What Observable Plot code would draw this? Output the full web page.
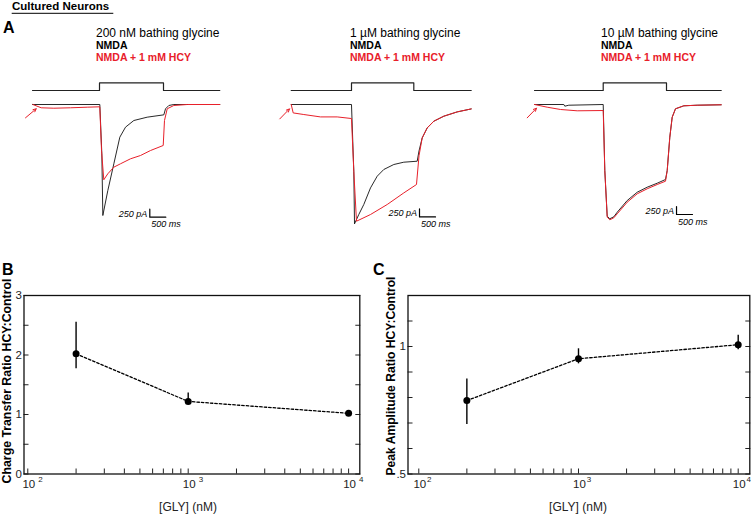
<!DOCTYPE html>
<html><head><meta charset="utf-8">
<script src="https://cdn.jsdelivr.net/npm/d3@7"></script>
<script src="https://cdn.jsdelivr.net/npm/@observablehq/plot@0.6"></script>
<style>
body{margin:0;background:#fff;}
#fig{position:relative;width:751px;height:514px;overflow:hidden;background:#fff;font-family:"Liberation Sans",Arial,Helvetica,sans-serif;}
</style></head><body><div id="fig"></div>
<script>
// ---------- Panel A data: whole-cell currents (time in ms from NMDA onset, current in pA) ----------
const trace1Black = [[-2094,0],[10,0],[73,-1542],[104,-3469],[260,-2688],[448,-1854],[635,-1021],[813,-708],[1073,-500],[1490,-396],[2010,-323],[2063,-135],[2167,-31],[2323,0],[3760,0]];
const trace1Red = [[-2084,0],[-1822,-103],[-1428,-116],[-906,-103],[-384,-84],[9,-72],[63,-1438],[134,-2353],[259,-2166],[447,-1959],[656,-1853],[969,-1697],[1281,-1594],[1594,-1438],[1991,-1281],[2031,-500],[2116,-134],[2322,-31],[2741,0],[3759,0]];
const trace2Black = [[-1884,0],[0,0],[72,-2084],[94,-3731],[228,-3438],[384,-3125],[594,-2606],[803,-2241],[1009,-2031],[1322,-1875],[1634,-1803],[2053,-1772],[2110,-1450],[2209,-1044],[2366,-731],[2572,-522],[2884,-366],[3303,-231],[3741,-138]];
const trace2Red = [[-1884,0],[-1822,-263],[-1491,-313],[-969,-388],[-447,-388],[0,-438],[72,-2084],[156,-3647],[594,-3438],[1116,-3125],[1634,-2763],[2031,-2500],[2110,-1600],[2209,-1044],[2366,-731],[2572,-522],[2884,-366],[3303,-231],[3741,-138]];
const trace3Black = [[-2147,0],[-1231,0],[-1200,-53],[-1075,-22],[0,0],[50,-2063],[125,-3490],[206,-3570],[331,-3510],[438,-3366],[750,-3000],[1063,-2741],[1375,-2584],[1688,-2459],[1947,-2344],[2000,-2063],[2081,-1022],[2156,-397],[2259,-134],[2519,-41],[2938,-22],[3688,-9]];
const trace3Red = [[-2147,0],[-1750,-84],[-1334,-156],[-813,-197],[0,-188],[50,-2063],[125,-3521],[206,-3603],[331,-3541],[438,-3416],[750,-3053],[1063,-2791],[1375,-2634],[1688,-2500],[1947,-2397],[2000,-2063],[2081,-1022],[2156,-397],[2259,-134],[2519,-41],[2938,-22],[3688,-9]];
const traceTitles = ["200 nM bathing glycine", "1 \u00b5M bathing glycine", "10 \u00b5M bathing glycine"];
const legendLabels = ["NMDA", "NMDA + 1 mM HCY"];
// NMDA application protocol (ms)
const stepStart = [-2094, -1884, -2147];
const stepOn = [0, 0, 0];
const stepOff = [2000, 1947, 1978];
const stepEnd = [3759, 3741, 3688];
const stepLevels = [438, 678]; // schematic indicator levels
// scale bars: 250 pA, 500 ms, corner (ms, pA)
const barCurrent = 250, barTime = 500;
const barCornerT = [1572, 2125, 2291];
const barCornerI = [-3522, -3513, -3438];
// red arrows (ms, pA)
const arrowFromT = [-2313, -2241, -2375], arrowFromI = [-416, -450, -416];
const arrowToT = [-1978, -1938, -2084], arrowToI = [-134, -138, -116];

// ---------- Panels B, C data ----------
const glyConc = [200, 1000, 10000];
const chargeRatio = [2.02, 1.22, 1.02];
const chargeLow = [1.77, 1.18, 0.99];
const chargeHigh = [2.55, 1.36, 1.05];
const peakRatio = [0.788, 0.952, 1.007];
const peakLow = [0.694, 0.932, 0.987];
const peakHigh = [0.873, 0.991, 1.044];
const xTicks = [100,200,300,400,500,600,700,800,900,1000,2000,3000,4000,5000,6000,7000,8000,9000,10000];
const xDecades = [100, 1000, 10000];
const chargeTicks = [0,0.5,1,1.5,2,2.5,3];
const chargeTickLabels = [0,1,2,3];
const peakTicks = [0.5,0.6,0.7,0.8,0.9,1.0,1.1];
const peakTickLabels = [0.5, 1];

const RED = "#e8202a";
const FONT = '"Liberation Sans", Arial, Helvetica, sans-serif';
const fig = document.getElementById("fig");
function place(svg, left, top) {
  svg.style.position = "absolute";
  svg.style.left = left + "px";
  svg.style.top = top + "px";
  svg.style.maxWidth = "none";
  fig.appendChild(svg);
}
const toRows = a => a.map(([t, I]) => ({t, I}));

// ---------- Panel A traces ----------
const traces = [
  {black: trace1Black, red: trace1Red, left: 20, width: 230, x: [-2469, 4719]},
  {black: trace2Black, red: trace2Red, left: 270, width: 230, x: [-2531, 4656]},
  {black: trace3Black, red: trace3Red, left: 510, width: 241, x: [-2897, 4634]}
];
traces.forEach((tr, i) => {
  const step = [
    {t: stepStart[i], I: stepLevels[0]}, {t: stepOn[i], I: stepLevels[0]},
    {t: stepOn[i], I: stepLevels[1]}, {t: stepOff[i], I: stepLevels[1]},
    {t: stepOff[i], I: stepLevels[0]}, {t: stepEnd[i], I: stepLevels[0]}
  ];
  const c = {t: barCornerT[i], I: barCornerI[i]};
  const bar = [{t: c.t, I: c.I + barCurrent}, {t: c.t, I: c.I}, {t: c.t + barTime, I: c.I}];
  const arrow = [{t1: arrowFromT[i], I1: arrowFromI[i], t2: arrowToT[i], I2: arrowToI[i]}];
  const svg = Plot.plot({
    width: tr.width, height: 170, margin: 0,
    x: {domain: tr.x, axis: null},
    y: {domain: [-4250, 1062.5], axis: null},
    style: {background: "transparent", fontFamily: FONT, overflow: "visible"},
    marks: [
      Plot.line(step, {x: "t", y: "I", stroke: "#222", strokeWidth: 1.2}),
      Plot.line(toRows(tr.black), {x: "t", y: "I", stroke: "#111", strokeWidth: 0.9}),
      Plot.line(toRows(tr.red), {x: "t", y: "I", stroke: RED, strokeWidth: 1}),
      Plot.line(bar, {x: "t", y: "I", stroke: "#000", strokeWidth: 1.2}),
      Plot.text([c], {x: "t", y: "I", text: () => barCurrent + " pA", textAnchor: "end", lineAnchor: "bottom", dx: -2.5, dy: -0.5, fontStyle: "italic", fontSize: 9, fill: "#000"}),
      Plot.text([c], {x: "t", y: "I", text: () => barTime + " ms", textAnchor: "start", lineAnchor: "bottom", dx: 1.5, dy: 10, fontStyle: "italic", fontSize: 9, fill: "#000"}),
      Plot.arrow(arrow, {x1: "t1", y1: "I1", x2: "t2", y2: "I2", stroke: RED, strokeWidth: 1, headLength: 5, headAngle: 50})
    ]
  });
  place(svg, tr.left, 70);
});

// ---------- Panels B and C ----------
function summaryPlot({vals, lo, hi, yDomain, yTicks, yLabels, yFmt, xDomain, width, marginLeft, marginRight, supDx}) {
  const rows = glyConc.map((g, i) => ({g, v: vals[i], lo: lo[i], hi: hi[i]}));
  return Plot.plot({
    width, height: 264, marginLeft, marginRight, marginTop: 45, marginBottom: 40.5,
    x: {type: "log", domain: xDomain, label: null},
    y: {domain: yDomain, label: null},
    style: {background: "transparent", fontFamily: FONT, fontSize: "11px", color: "#222", overflow: "visible"},
    marks: [
      Plot.axisX(xTicks, {tickSize: -5, fill: "none", label: null, strokeWidth: 1}),
      Plot.axisY(yTicks, {anchor: "left", tickSize: -5, fill: "none", label: null}),
      Plot.axisY(yTicks, {anchor: "right", tickSize: -5, fill: "none", label: null}),
      Plot.axisY(yLabels, {anchor: "left", tickSize: 0, tickPadding: 2, tickFormat: yFmt, label: null, fontSize: 11.5}),
      Plot.text(xDecades, {x: d => d, frameAnchor: "bottom", text: () => "10", lineAnchor: "bottom", dx: 1, dy: 13.5, fontSize: 11.5, fill: "#222"}),
      Plot.text(xDecades, {x: d => d, frameAnchor: "bottom", text: d => String(Math.round(Math.log10(d))), lineAnchor: "bottom", textAnchor: "start", dx: supDx, dy: 8.2, fontSize: 8, fill: "#222"}),
      Plot.frame({stroke: "#111", strokeWidth: 1.3}),
      Plot.ruleX(rows, {x: "g", y1: "lo", y2: "hi", stroke: "#000", strokeWidth: 1.4}),
      Plot.line(rows, {x: "g", y: "v", stroke: "#000", strokeWidth: 1.3, strokeDasharray: "2.5,2"}),
      Plot.dot(rows, {x: "g", y: "v", r: 3.5, fill: "#000", stroke: "none"})
    ]
  });
}
place(summaryPlot({
  vals: chargeRatio, lo: chargeLow, hi: chargeHigh,
  yDomain: [0, 3], yTicks: chargeTicks, yLabels: chargeTickLabels, yFmt: d => String(d),
  xDomain: [94.7, 11744], width: 370, marginLeft: 23.5, marginRight: 10.7, supDx: 10.5
}), 0, 250);
place(summaryPlot({
  vals: peakRatio, lo: peakLow, hi: peakHigh,
  yDomain: [0.5, 1.2], yTicks: peakTicks, yLabels: peakTickLabels, yFmt: d => String(d).replace(/^0/, ""),
  xDomain: [85.6, 11820], width: 381, marginLeft: 37.5, marginRight: 1.7, supDx: 8.3
}), 370, 250);

// ---------- Text overlay ----------
const ov = d3.select(fig).append("svg")
  .attr("width", 751).attr("height", 514)
  .style("position", "absolute").style("left", "0px").style("top", "0px")
  .style("font-family", FONT).style("pointer-events", "none");
function txt(x, y, s, opts = {}) {
  const t = ov.append("text").attr("x", x).attr("y", y).text(s)
    .attr("font-size", opts.size || 12).attr("font-weight", opts.weight || "normal")
    .attr("fill", opts.fill || "#000").attr("text-anchor", opts.anchor || "start");
  if (opts.rotate) t.attr("transform", `rotate(-90 ${x} ${y})`);
  return t;
}
txt(12, 10, "Cultured Neurons", {size: 11.5, weight: "bold"});
ov.append("line").attr("x1", 11.7).attr("x2", 113.3).attr("y1", 13.3).attr("y2", 13.3).attr("stroke", "#000").attr("stroke-width", 1);
txt(3, 33.3, "A", {size: 16, weight: "bold"});
const headerX = [96, 350, 601];
headerX.forEach((x, i) => {
  txt(x, 36.7, traceTitles[i], {size: 12});
  txt(x, 48.8, legendLabels[0], {size: 10.5, weight: "bold"});
  txt(x, 61, legendLabels[1], {size: 10.5, weight: "bold", fill: RED});
});
txt(2, 274.5, "B", {size: 16, weight: "bold"});
txt(373, 275, "C", {size: 16, weight: "bold"});
txt(10.5, 381, "Charge Transfer Ratio HCY:Control", {size: 12.3, weight: "bold", anchor: "middle", rotate: true});
txt(394.5, 376, "Peak Amplitude Ratio HCY:Control", {size: 12.1, weight: "bold", anchor: "middle", rotate: true});
txt(188, 510.5, "[GLY] (nM)", {size: 12, anchor: "middle", fill: "#222"});
txt(578, 510.5, "[GLY] (nM)", {size: 12, anchor: "middle", fill: "#222"});
</script></body></html>
